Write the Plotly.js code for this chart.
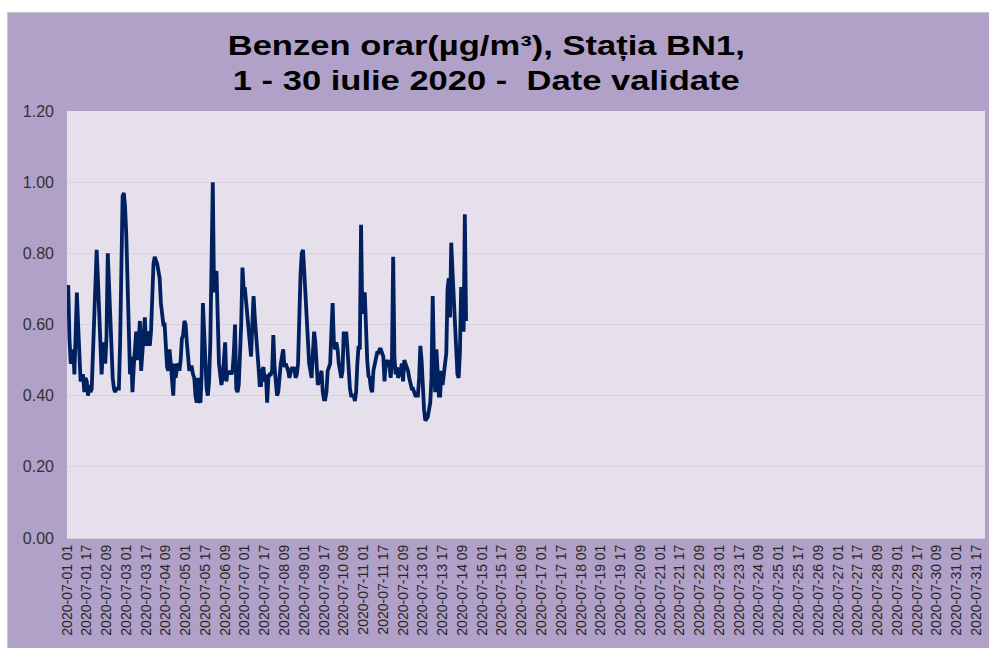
<!DOCTYPE html>
<html>
<head>
<meta charset="utf-8">
<script src="https://cdn.plot.ly/plotly-3.0.1.min.js"></script>
<style>
html,body{margin:0;padding:0;background:#ffffff;width:989px;height:648px;overflow:hidden;}
#chart{position:absolute;left:7px;top:12px;width:982px;height:636px;box-sizing:border-box;border-left:1px solid #c8c8c8;border-top:1px solid #c8c8c8;}
</style>
</head>
<body>
<div id="chart"></div>
<script>
// Hourly benzene values (µg/m³), starting 2020-07-01 01
var benzenWeek1 = [
0.70,0.71,0.56,0.49,0.50,0.53,0.46,0.55,0.69,0.60,
0.47,0.44,0.45,0.46,0.41,0.45,0.44,0.40,0.43,0.41,
0.42,0.53,0.64,0.72,0.81,0.73,0.62,0.55,0.46,0.52,
0.55,0.49,0.57,0.80,0.72,0.62,0.50,0.45,0.42,0.41,
0.42,0.42,0.42,0.55,0.77,0.96,0.97,0.93,0.85,0.70,
0.52,0.46,0.51,0.41,0.48,0.53,0.58,0.50,0.55,0.61,
0.47,0.53,0.60,0.62,0.54,
0.58,0.57,0.54,0.58,0.70,0.77,0.79,0.78,0.77,0.75,
0.73,0.66,0.62,0.60,0.60,0.51,0.48,0.47,0.53,0.49,
0.44,0.40,0.49,0.45,0.48,0.49,0.47,0.50,0.56,0.57,
0.61,0.60,0.55,0.51,0.47,0.48,0.48,0.46,0.45,0.40,
0.38,0.45,0.39,0.38,0.46,0.66,0.57,0.45,0.42,0.40,
0.44,0.55,0.78,1.00,0.69,0.74,0.75,0.56,0.49,0.46,
0.43,0.45,0.50,0.55,
0.44,0.47,0.46,0.47,0.46,0.47,0.52,0.60,0.42,0.41,
0.43,0.50,0.60,0.76,0.70,0.70,0.66,0.61,0.57,0.54,
0.51,0.60,0.68,0.62,0.56,0.52,0.48,0.43,0.43,0.47,
0.48,0.44,0.46,0.38,0.45,0.46,0.46,0.47
];
var benzenWeek2 = [
0.57,0.48,
0.42,0.40,0.41,0.46,0.49,0.51,0.53,0.48,0.49,0.48,
0.47,0.45,0.47,0.48,0.47,0.48,0.45,0.46,0.49,0.65,
0.74,0.80,0.81,0.75,0.68,
0.63,0.53,0.49,0.47,0.45,0.52,0.58,0.55,0.47,0.43,
0.44,0.46,0.47,0.41,0.39,0.39,0.41,0.47,0.48,0.49,
0.58,0.66,0.55,0.53,0.55,0.53,0.49,0.47,0.45,0.47,
0.58,0.54,0.58,0.53,0.46,0.42,0.40,0.40,0.40,0.385,
0.41,0.49,0.54,0.53,0.88,0.63,0.68,0.69,0.58,0.50,
0.455,0.45,0.42,0.41,0.47,0.49,0.51,0.52,0.52,0.53,
0.53,0.52,0.51,0.44,0.50,
0.49,0.50,0.48,0.45,0.50,0.79,0.51,0.46,0.48,0.45,
0.46,0.47,0.49,0.44,0.50,0.49,0.48,0.47,0.45,0.43,
0.42,0.42,0.41,0.40,0.40,0.40,0.45,0.54,0.50,0.42,
0.36,0.33,0.335,0.34,0.36,0.38,0.45,0.68,0.50,0.41,
0.53,0.47,0.40,0.40,0.47,0.43,0.46,0.49,0.52,0.70,
0.73,0.62,0.83,0.75,0.67,0.60,0.53,0.46,0.45,0.52,
0.70,0.70,0.58,0.91,0.61
];
var benzen = benzenWeek1.concat(benzenWeek2);

// Axis categories: every hour of July 2020
var monthPrefix = "2020-07-";
var days = [];
for (var d = 1; d <= 31; d++) days.push((d < 10 ? "0" : "") + d);
var hours = [];
for (var h = 1; h <= 24; h++) hours.push((h < 10 ? "0" : "") + h);
var categories = [];
days.forEach(function(dd){ hours.forEach(function(hh){ categories.push(monthPrefix + dd + " " + hh); }); });
var tickLabels = categories.filter(function(c, i){ return i % 16 === 0; });
var yTicks = [0, 0.2, 0.4, 0.6, 0.8, 1.0, 1.2];

var trace = {
  x: categories.slice(0, benzen.length),
  y: benzen,
  type: 'scatter',
  mode: 'lines',
  line: {color: '#002060', width: 3.8},
  hoverinfo: 'x+y'
};

var layout = {
  width: 982, height: 636,
  paper_bgcolor: '#b1a0c7',
  plot_bgcolor: '#e6e0ec',
  margin: {l: 59, r: 5, t: 98, b: 111, pad: 0},
  showlegend: false,
  title: {
    text: '<b>Benzen orar(µg/m³), Stația BN1,<br>1 - 30 iulie 2020 -  Date validate</b>',
    font: {family: 'Liberation Sans, Arial, sans-serif', size: 27, color: '#000000'},
    x: 0.487, xanchor: 'center', xref: 'container',
    y: 0.934, yanchor: 'top', yref: 'container'
  },
  xaxis: {
    type: 'category',
    categoryorder: 'array',
    categoryarray: categories,
    range: [0, 743],
    tickmode: 'array',
    tickvals: tickLabels,
    ticktext: tickLabels,
    tickangle: -90,
    ticks: '',
    showgrid: false,
    zeroline: false,
    showline: true,
    linecolor: '#d0c9da',
    linewidth: 1,
    tickfont: {family: 'Liberation Sans, Arial, sans-serif', size: 14, color: '#262626'},
    automargin: false
  },
  yaxis: {
    range: [0, 1.2],
    tickmode: 'array',
    tickvals: yTicks,
    ticktext: yTicks.map(function(v){ return v.toFixed(2); }),
    ticks: '',
    showgrid: true,
    gridcolor: '#d8d2de',
    gridwidth: 1,
    zeroline: false,
    showline: false,
    ticklabelstandoff: 12,
    tickfont: {family: 'Liberation Sans, Arial, sans-serif', size: 16, color: '#333333'},
    automargin: false
  }
};

Plotly.newPlot('chart', [trace], layout, {displayModeBar: false, staticPlot: true}).then(function(gd){
  // The reference title is drawn horizontally wider; stretch it about its centre.
  var g = gd.querySelector('.g-gtitle');
  if (g) {
    var bb = g.getBBox();
    var cx = bb.x + bb.width / 2;
    g.setAttribute('transform', 'translate(' + cx + ',0) scale(1.28,1) translate(' + (-cx) + ',0)');
  }
});
</script>
</body>
</html>
